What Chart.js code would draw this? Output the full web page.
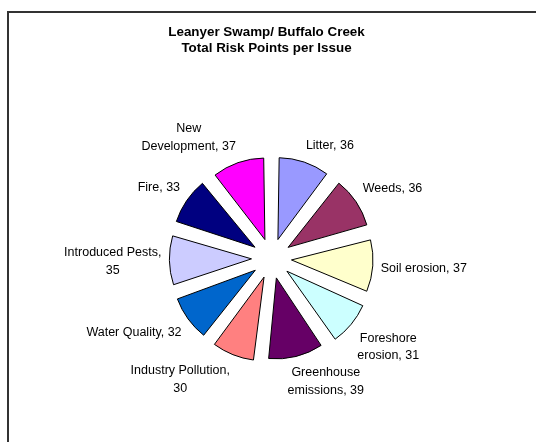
<!DOCTYPE html>
<html>
<head>
<meta charset="utf-8">
<script src="https://cdn.jsdelivr.net/npm/chart.js@4/dist/chart.umd.min.js"></script>
<style>
html, body { margin: 0; padding: 0; background: #fff; overflow: hidden; }
#frame { position: absolute; left: 7px; top: 11px; width: 600px; height: 500px; border: 2px solid #333; }
#wrap  { position: absolute; left: 0; top: 0; width: 536px; height: 442px; }
</style>
</head>
<body>
<div id="frame"></div>
<div id="wrap"><canvas id="ch-risk"></canvas></div>
<script>
// ── Dados (sentido horário a partir do topo) ──
const ISSUES = ['Litter', 'Weeds', 'Soil erosion', 'Foreshore erosion', 'Greenhouse emissions',
                'Industry Pollution', 'Water Quality', 'Introduced Pests', 'Fire', 'New Development'];
const POINTS = [36, 36, 37, 31, 39, 30, 32, 35, 33, 37];
const SLICE_COLORS = ['#9999FF', '#993366', '#FFFFCC', '#CCFFFF', '#660066',
                      '#FF8080', '#0066CC', '#CCCCFF', '#000080', '#FF00FF'];
const TITLE_LINES = ['Leanyer Swamp/ Buffalo Creek', 'Total Risk Points per Issue'];

const FONT = "'Liberation Sans', Arial, sans-serif";
const EXPLODE = 20;      // deslocamento visual das fatias (px)
const LBL_LH = 17.5;     // altura de linha dos rótulos
const LBL_MAXW = 102;    // largura máx. antes de quebrar linha

// ── Quebra de texto simples por palavra ──
function wrapText(ctx, txt, maxW) {
  const words = txt.split(' ');
  const out = [];
  let cur = '';
  words.forEach(w => {
    const test = cur ? cur + ' ' + w : w;
    if (cur && ctx.measureText(test).width > maxW) { out.push(cur); cur = w; }
    else cur = test;
  });
  if (cur) out.push(cur);
  return out;
}

const clamp1 = v => Math.max(-1, Math.min(1, v));

// ── Título + rótulos fora das fatias (estilo Excel) ──
const pieLabelPlugin = {
  id: 'pieLabels',
  afterDatasetsDraw(chart) {
    const ctx = chart.ctx;
    ctx.save();
    ctx.fillStyle = '#000';
    ctx.textAlign = 'center';
    ctx.textBaseline = 'middle';

    ctx.font = 'bold 13.4px ' + FONT;
    TITLE_LINES.forEach((t, k) => ctx.fillText(t, 266.5, 32 + k * 16));

    ctx.font = '12.5px ' + FONT;
    const meta = chart.getDatasetMeta(0);
    meta.data.forEach((arc, i) => {
      const p = arc.getProps(['x', 'y', 'startAngle', 'endAngle', 'outerRadius', 'circumference'], true);
      const m = (p.startAngle + p.endAngle) / 2;
      const circ = p.endAngle - p.startAngle;
      const rEff = p.outerRadius + EXPLODE * (1 - Math.sin(Math.min(Math.PI, circ)));
      const ra = rEff + EXPLODE + 8;
      const ax = p.x + ra * Math.cos(m);
      const ay = p.y + ra * Math.sin(m);
      const lines = wrapText(ctx, ISSUES[i] + ', ' + POINTS[i], LBL_MAXW);
      const w = Math.max(...lines.map(l => ctx.measureText(l).width));
      const h = lines.length * LBL_LH;
      const cx = ax + clamp1(3 * Math.cos(m)) * w / 2;
      const cy = ay + clamp1(3 * Math.sin(m)) * h / 2;
      lines.forEach((l, k) => ctx.fillText(l, cx, cy - h / 2 + LBL_LH * (k + 0.5)));
    });
    ctx.restore();
  }
};

new Chart(document.getElementById('ch-risk').getContext('2d'), {
  type: 'pie',
  data: {
    labels: ISSUES,
    datasets: [{
      data: POINTS,
      backgroundColor: SLICE_COLORS,
      borderColor: '#000',
      borderWidth: 1,
      offset: EXPLODE * 4,
      hoverOffset: 0
    }]
  },
  plugins: [pieLabelPlugin],
  options: {
    responsive: true, maintainAspectRatio: false, animation: false,
    radius: 74,
    layout: { padding: { left: 57, right: 50, top: 115, bottom: 40 } },
    plugins: { legend: { display: false }, tooltip: { enabled: false }, title: { display: false } }
  }
});
</script>
</body>
</html>
